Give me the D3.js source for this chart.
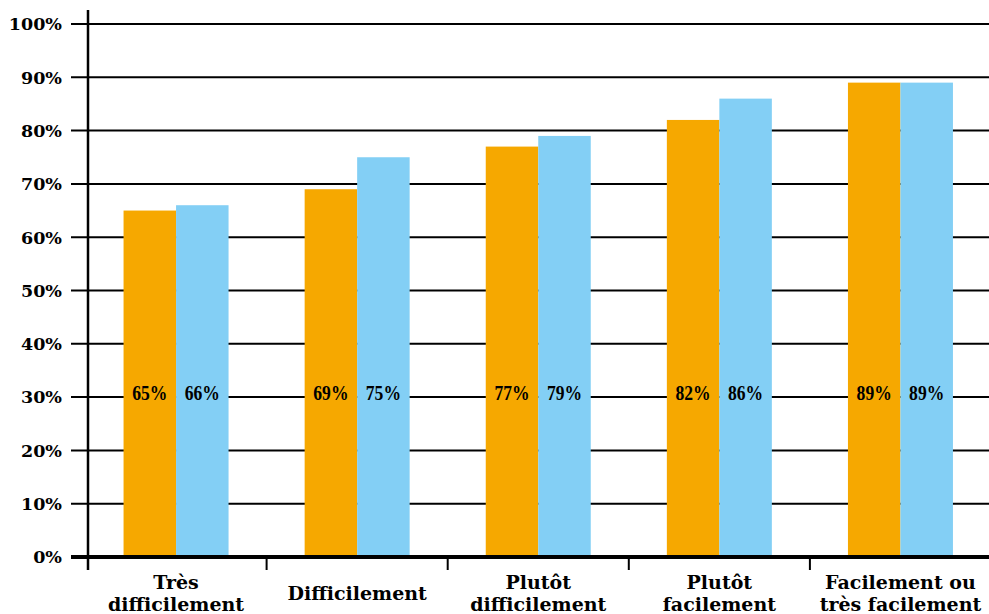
<!DOCTYPE html>
<html>
<head>
<meta charset="utf-8">
<script src="https://cdn.jsdelivr.net/npm/d3@7"></script>
<style>
  html, body { margin: 0; padding: 0; background: #fff; }
  svg { display: block; }
</style>
</head>
<body>
<svg id="chart" width="989" height="614"></svg>
<script>
// Response categories (multi-line labels)
const categories = [
  ["Très", "difficilement"],
  ["Difficilement"],
  ["Plutôt", "difficilement"],
  ["Plutôt", "facilement"],
  ["Facilement ou", "très facilement"]
];
const seriesOrange = [65, 69, 77, 82, 89];
const seriesBlue = [66, 75, 79, 86, 89];
const yTicks = [0, 10, 20, 30, 40, 50, 60, 70, 80, 90, 100];

const svg = d3.select("#chart");
const W = 989;

const y = d3.scaleLinear().domain([0, 100]).range([557, 24]);
const x = d3.scaleBand().domain(d3.range(categories.length)).range([85.5, 991]).padding(0);
const inner = d3.scaleBand().domain([0, 1]).range([-52.5, 52.5]).padding(0);

// Gridlines
svg.append("g").selectAll("line").data(yTicks.filter(d => d > 0)).join("line")
  .attr("x1", 71).attr("x2", W)
  .attr("y1", d => y(d)).attr("y2", d => y(d))
  .attr("stroke", "#000").attr("stroke-width", 2);

// Y tick labels
svg.append("g").selectAll("text").data(yTicks).join("text")
  .attr("x", 62).attr("y", d => y(d))
  .attr("dy", "0.36em")
  .attr("text-anchor", "end")
  .attr("font-family", "DejaVu Serif, serif")
  .attr("font-weight", "bold")
  .attr("font-size", 17.5)
  .text(d => d + "%");

// Bars
const groups = svg.append("g").selectAll("g").data(categories).join("g")
  .attr("transform", (d, i) => `translate(${x(i) + x.bandwidth() / 2},0)`);

const colors = ["#F6A800", "#83CFF5"];
groups.each(function (d, i) {
  const vals = [seriesOrange[i], seriesBlue[i]];
  const g = d3.select(this);
  g.selectAll("rect").data(vals).join("rect")
    .attr("x", (v, j) => inner(j))
    .attr("width", inner.bandwidth())
    .attr("y", v => y(v))
    .attr("height", v => y(0) - y(v))
    .attr("fill", (v, j) => colors[j]);
  g.selectAll("text.val").data(vals).join("text")
    .attr("class", "val")
    .attr("transform", (v, j) => `translate(${inner(j) + inner.bandwidth() / 2},${y(30.7)}) scale(0.88,1)`)
    .attr("dy", "0.35em")
    .attr("text-anchor", "middle")
    .attr("font-family", "Liberation Serif, serif")
    .attr("font-weight", "bold")
    .attr("font-size", 20)
    .attr("fill", "#000")
    .text(v => v + "%");
});

// Baseline (0%)
svg.append("line")
  .attr("x1", 71).attr("x2", W)
  .attr("y1", y(0)).attr("y2", y(0))
  .attr("stroke", "#000").attr("stroke-width", 4);

// Y axis line
svg.append("line")
  .attr("x1", 88).attr("x2", 88)
  .attr("y1", 10).attr("y2", 570)
  .attr("stroke", "#000").attr("stroke-width", 2.5);

// Category separators
svg.append("g").selectAll("line").data(d3.range(1, categories.length)).join("line")
  .attr("x1", i => x(i)).attr("x2", i => x(i))
  .attr("y1", y(0)).attr("y2", 570)
  .attr("stroke", "#000").attr("stroke-width", 2);

// Category labels
const lab = svg.append("g").selectAll("text").data(categories).join("text")
  .attr("text-anchor", "middle")
  .attr("font-family", "DejaVu Serif, serif")
  .attr("font-weight", "bold")
  .attr("font-size", 19)
  .attr("fill", "#000");
lab.each(function (lines, i) {
  const t = d3.select(this);
  const cx = x(i) + x.bandwidth() / 2;
  const startY = lines.length === 1 ? 600 : 589;
  lines.forEach((ln, k) => {
    t.append("tspan").attr("x", cx).attr("y", startY + k * 22).text(ln);
  });
});
</script>
</body>
</html>
